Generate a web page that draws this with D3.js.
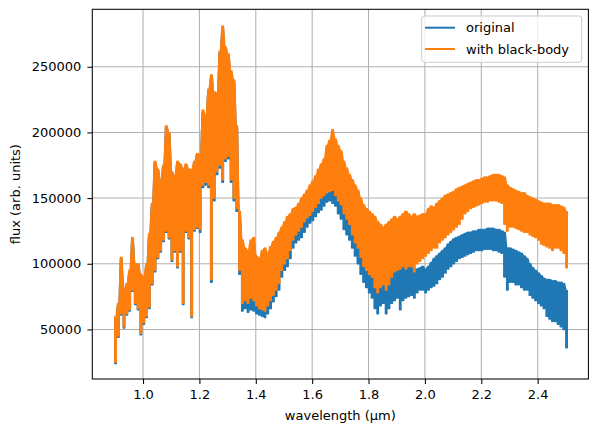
<!DOCTYPE html>
<html><head><meta charset="utf-8">
<script src="https://cdn.jsdelivr.net/npm/d3@7"></script>
<style>body{margin:0;background:#fff}svg{display:block}text{font-family:"DejaVu Sans",sans-serif}</style>
</head><body><svg id="c" width="597" height="432"></svg>
<script>
// wavelength grid (µm): samples every 0.01 from 0.90 to 2.50
const wlStart = 0.90, wlStep = 0.01, wlCount = 161;
// flux envelope per sample, in thousands (upper / lower edge of the noisy trace)
const originalHi = [
 59,69,104,79,84,94,119,99,99,91,
 89,99,122,145,177,171,162,174,204,199,
 169,166,177,175,171,175,171,171,177,183,
 182,215,211,231,242,229,228,260,279,263,
 258,245,238,203,137,114,108,106,114,116,
 102,100,106,108,104,109,113,116,120,122,
 124,128,130,134,135,138,142,145,148,152,
 155,158,162,165,168,176,180,184,180,176,
 172,164,159,154,149,144,140,134,129,125,
 122,120,117,114,111,108,106,105,104,103,
 102,101,100,99,98,97,96,96,97,98,
 96,98,101,104,106,108,110,112,115,117,
 119,120,121,122,123,124,124,125,125,126,
 126,126,127,127,127,126,126,125,124,112,
 112,111,110,109,108,106,104,100,97,95,
 93,91,89,88,88,87,87,86,86,85,
 80];
const originalLo = [
 24,44,61,51,61,64,79,69,65,46,
 54,59,66,84,94,104,109,117,124,119,
 102,109,97,109,69,124,119,59,125,127,
 124,158,160,158,86,148,168,173,162,178,
 180,162,148,140,92,64,66,63,65,64,
 62,61,60,59,62,66,71,75,80,90,
 95,98,104,112,116,118,120,124,128,131,
 133,136,139,141,144,147,148,146,144,138,
 134,126,122,118,112,106,100,92,86,82,
 78,74,66,62,68,70,62,66,70,72,
 74,65,72,74,75,76,74,78,80,80,
 78,80,82,83,85,88,90,93,96,98,
 100,102,104,105,106,107,108,109,110,110,
 110,111,111,111,110,110,109,108,90,80,
 86,86,84,84,82,80,80,76,74,72,
 70,68,66,60,58,56,56,54,52,50,
 36];
const blackbodyHi = [
 60,70,105,80,85,95,120,100,100,92,
 90,100,123,146,178,172,163,175,205,200,
 170,167,178,176,172,176,172,172,178,184,
 183,217,213,233,244,231,230,262,281,265,
 260,247,240,205,140,118,112,110,118,120,
 106,104,110,112,108,113,117,120,124,128,
 132,136,138,142,143,146,150,153,156,160,
 163,167,172,176,180,190,194,202,195,190,
 186,178,173,168,164,160,156,150,145,142,
 140,138,136,132,130,128,130,132,134,136,
 134,136,138,140,138,136,138,136,137,138,
 138,142,144,143,146,148,150,152,153,154,
 155,157,158,159,160,161,162,163,164,164,
 165,166,166,167,168,168,168,167,166,160,
 158,157,156,155,154,154,152,151,150,149,
 148,147,146,146,146,145,145,145,144,143,
 140];
const blackbodyLo = [
 25,45,62,52,62,65,80,70,66,47,
 55,60,67,85,95,105,110,118,125,120,
 103,110,98,110,70,125,120,60,126,128,
 126,160,162,160,88,150,170,175,164,180,
 182,164,150,142,95,70,72,70,74,72,
 68,66,65,64,68,72,76,80,85,95,
 100,104,110,118,122,125,128,132,135,137,
 140,143,146,150,152,154,155,156,152,148,
 145,138,134,130,122,116,112,105,98,95,
 92,90,82,78,82,84,80,84,90,94,
 95,96,98,96,98,98,94,100,102,104,
 106,108,110,112,112,116,118,120,122,124,
 126,128,130,134,138,140,142,143,144,145,
 146,147,147,148,148,148,147,146,130,125,
 128,128,127,126,125,124,124,122,121,120,
 118,115,114,113,112,110,112,112,110,108,
 97];
const seriesNames = ["original", "with black-body"];
const seriesColors = ["#1f77b4", "#ff7f0e"];
const xTicks = [1.0, 1.2, 1.4, 1.6, 1.8, 2.0, 2.2, 2.4];
const yTicks = [50000, 100000, 150000, 200000, 250000];
const xLabel = "wavelength (µm)";
const yLabel = "flux (arb. units)";

const svg = d3.select("#c");
const L = 92.3, R = 588.4, T = 9.3, B = 379;
const x = d3.scaleLinear().domain([0.82, 2.58]).range([L, R]);
const y = d3.scaleLinear().domain([12250, 293750]).range([B, T]);
const fs = 13;

// noisy trace: each sample swings from its upper to its lower edge and back
function trace(hi, lo) {
  const pts = [];
  for (let i = 0; i < wlCount; i++) {
    const w = wlStart + i * wlStep, h = wlStep / 2;
    pts.push([w, hi[i] * 1000], [w, lo[i] * 1000],
             [w + h, lo[i] * 1000], [w + h, hi[i] * 1000]);
  }
  return pts;
}

// grid
const g = svg.append("g");
g.selectAll(".gx").data(xTicks).join("line")
  .attr("x1", d => x(d)).attr("x2", d => x(d)).attr("y1", T).attr("y2", B)
  .attr("stroke", "#b0b0b0").attr("stroke-width", 1.04);
g.selectAll(".gy").data(yTicks).join("line")
  .attr("y1", d => y(d)).attr("y2", d => y(d)).attr("x1", L).attr("x2", R)
  .attr("stroke", "#b0b0b0").attr("stroke-width", 1.04);

// lines
const line = d3.line().x(d => x(d[0])).y(d => y(d[1]));
const data = [trace(originalHi, originalLo), trace(blackbodyHi, blackbodyLo)];
svg.append("g").selectAll("path").data(data).join("path")
  .attr("d", line).attr("fill", "none")
  .attr("stroke", (d, i) => seriesColors[i]).attr("stroke-width", 1.5)
  .attr("stroke-linejoin", "round");

// axes
const xa = svg.append("g").attr("transform", `translate(0,${B})`)
  .call(d3.axisBottom(x).tickValues(xTicks).tickFormat(d3.format(".1f")).tickSize(4.9).tickPadding(5.5));
const ya = svg.append("g").attr("transform", `translate(${L},0)`)
  .call(d3.axisLeft(y).tickValues(yTicks).tickFormat(d3.format("d")).tickSize(4.9).tickPadding(6));
[xa, ya].forEach(a => {
  a.select(".domain").remove();
  a.selectAll("text").attr("font-size", fs).attr("fill", "#000").attr("font-family", "DejaVu Sans");
  a.selectAll("line").attr("stroke", "#000").attr("stroke-width", 1.04);
});

// frame
svg.append("rect").attr("x", L).attr("y", T).attr("width", R - L).attr("height", B - T)
  .attr("fill", "none").attr("stroke", "#000").attr("stroke-width", 1.04);

// labels
svg.append("text").attr("x", (L + R) / 2).attr("y", 420).attr("text-anchor", "middle")
  .attr("font-size", fs).text(xLabel);
svg.append("text").attr("transform", `translate(20,${(T + B) / 2}) rotate(-90)`)
  .attr("text-anchor", "middle").attr("font-size", fs).text(yLabel);

// legend
const lg = svg.append("g");
lg.append("rect").attr("x", 421.7).attr("y", 16).attr("width", 160).attr("height", 46.3)
  .attr("rx", 3).attr("fill", "#fff").attr("fill-opacity", 0.8)
  .attr("stroke", "#cccccc").attr("stroke-width", 1);
seriesNames.forEach((n, i) => {
  const ly = 27.7 + i * 21.3;
  lg.append("line").attr("x1", 425).attr("x2", 455).attr("y1", ly).attr("y2", ly)
    .attr("stroke", seriesColors[i]).attr("stroke-width", 2);
  lg.append("text").attr("x", 466).attr("y", ly + 4.7).attr("font-size", fs).text(n);
});
</script></body></html>
